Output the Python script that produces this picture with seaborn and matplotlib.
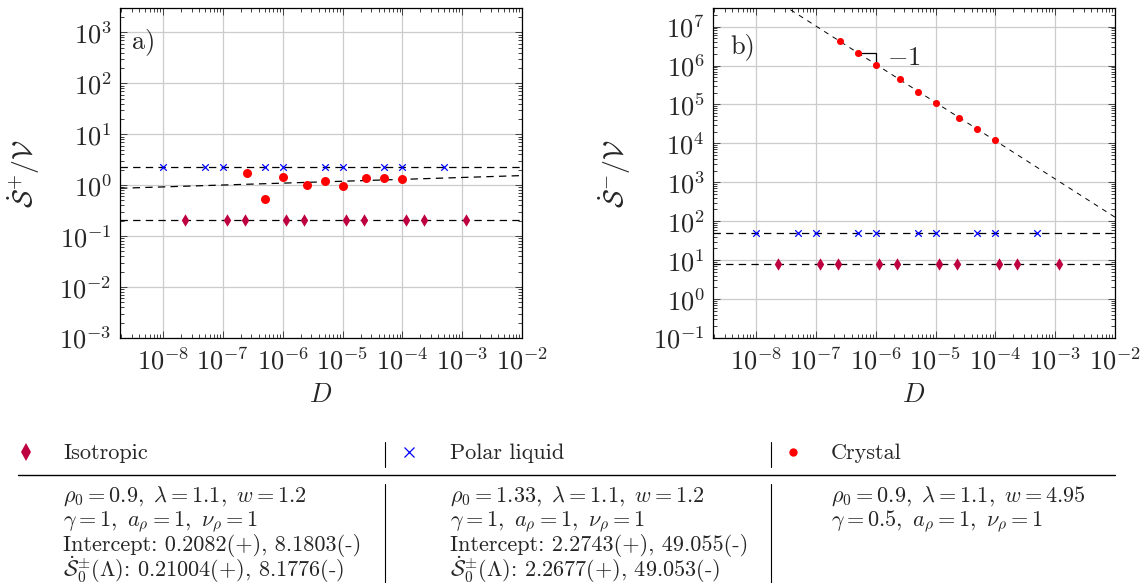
import numpy as np
import matplotlib
matplotlib.use("Agg")
import matplotlib.pyplot as plt
from matplotlib.lines import Line2D
from matplotlib.ticker import LogLocator, NullFormatter, LogFormatterMathtext
import seaborn as sns

# values
iso_D = [2.3e-8, 1.15e-7, 2.3e-7, 1.15e-6, 2.3e-6, 1.15e-5, 2.3e-5, 1.15e-4, 2.3e-4, 1.15e-3]
iso_plus = [0.210, 0.210, 0.210, 0.210, 0.210, 0.210, 0.210, 0.210, 0.210, 0.210]
iso_minus = [8.18, 8.18, 8.18, 8.18, 8.18, 8.18, 8.18, 8.18, 8.18, 8.18]

polar_D = [1e-8, 5e-8, 1e-7, 5e-7, 1e-6, 5e-6, 1e-5, 5e-5, 1e-4, 5e-4]
polar_plus = [2.27, 2.27, 2.27, 2.27, 2.27, 2.27, 2.27, 2.27, 2.27, 2.27]
polar_minus = [49.05, 49.05, 49.05, 49.05, 49.05, 49.05, 49.05, 49.05, 49.05, 49.05]

crystal_D = [2.5e-7, 5e-7, 1e-6, 2.5e-6, 5e-6, 1e-5, 2.5e-5, 5e-5, 1e-4]
crystal_plus = [1.72, 0.53, 1.46, 1.01, 1.20, 0.96, 1.39, 1.36, 1.33]
crystal_minus = [4.28e6, 2.15e6, 1.05e6, 4.6e5, 2.13e5, 1.07e5, 4.4e4, 2.3e4, 1.24e4]

# fitted intercepts (iso, polar) from the table
intercept_plus = [0.2082, 2.2743]
intercept_minus = [8.1803, 49.055]

# decade tick positions
x_ticks = [1e-8, 1e-7, 1e-6, 1e-5, 1e-4, 1e-3, 1e-2]
y_ticks_a = [1e-3, 1e-2, 1e-1, 1e0, 1e1, 1e2, 1e3]
y_ticks_b = [1e-1, 1e0, 1e1, 1e2, 1e3, 1e4, 1e5, 1e6, 1e7]

legend_names = ["Isotropic", "Polar liquid", "Crystal"]
table_rows = [
    [r"$\rho_0 = 0.9,\ \lambda = 1.1,\ w = 1.2$",
     r"$\gamma = 1,\ a_\rho = 1,\ \nu_\rho = 1$",
     "Intercept: 0.2082(+), 8.1803(-)",
     r"$\dot{\mathcal{S}}_0^{\pm}(\Lambda)$: 0.21004(+), 8.1776(-)"],
    [r"$\rho_0 = 1.33,\ \lambda = 1.1,\ w = 1.2$",
     r"$\gamma = 1,\ a_\rho = 1,\ \nu_\rho = 1$",
     "Intercept: 2.2743(+), 49.055(-)",
     r"$\dot{\mathcal{S}}_0^{\pm}(\Lambda)$: 2.2677(+), 49.053(-)"],
    [r"$\rho_0 = 0.9,\ \lambda = 1.1,\ w = 4.95$",
     r"$\gamma = 0.5,\ a_\rho = 1,\ \nu_\rho = 1$"],
]

PURPLE = "#bf0040"
BLUE = "#0000ff"
RED = "#ff0000"

sns.set_style("ticks")
plt.rcParams.update({
    "font.family": "serif",
    "font.serif": ["cmr10"],
    "mathtext.fontset": "cm",
    "axes.formatter.use_mathtext": True,
    "axes.unicode_minus": False,
    "lines.scale_dashes": False,
})

W, H = 1143, 583
fig = plt.figure(figsize=(W / 100, H / 100), dpi=100)
ax1 = fig.add_axes([120 / W, 1 - 338 / H, 402 / W, 330 / H])
ax2 = fig.add_axes([713 / W, 1 - 338 / H, 402 / W, 330 / H])

xlim = (1.9e-9, 1e-2)


def style_axes(ax, ylim, yticks):
    ax.set_xscale("log")
    ax.set_yscale("log")
    ax.set_xticks(x_ticks)
    ax.set_yticks(yticks)
    ax.set_xlim(*xlim)
    ax.set_ylim(*ylim)
    for a in (ax.xaxis, ax.yaxis):
        a.set_minor_locator(LogLocator(base=10, subs=np.arange(2, 10), numticks=400))
        a.set_minor_formatter(NullFormatter())
        a.set_major_formatter(LogFormatterMathtext())
    ax.tick_params(which="both", direction="in", top=True, right=True,
                   labelsize=19, width=0.7, color="#404040")
    ax.tick_params(which="major", length=5)
    ax.tick_params(which="minor", length=3)
    ax.tick_params(axis="x", pad=7)
    ax.tick_params(axis="y", pad=6)
    ax.grid(True, which="major", color="#cccccc", lw=0.9)
    ax.set_axisbelow(True)
    for sp in ax.spines.values():
        sp.set_linewidth(0.9)
        sp.set_color("black")
    ax.set_xlabel(r"$D$", fontsize=19, va="center")
    ax.xaxis.set_label_coords(0.5, -0.173)


def fit_line(ax, D, S, lw, dashes):
    coef = np.polyfit(np.log10(D), np.log10(S), 1)
    xs = np.logspace(np.log10(xlim[0]), np.log10(xlim[1]), 50)
    sns.lineplot(x=xs, y=10 ** np.polyval(coef, np.log10(xs)), ax=ax,
                 color="black", lw=lw, dashes=False, linestyle=(0, dashes), zorder=2)
    return coef


# panel a)
style_axes(ax1, (1e-3, 3e3), y_ticks_a)
for c in intercept_plus:
    ax1.axhline(c, color="black", lw=0.9, linestyle=(0, (5.3, 3.8)), zorder=2)
fit_line(ax1, crystal_D, crystal_plus, 0.9, (5.3, 3.8))
sns.scatterplot(x=iso_D, y=iso_plus, ax=ax1, marker="d", color=PURPLE, s=40,
                linewidth=0, zorder=3)
sns.scatterplot(x=polar_D, y=polar_plus, ax=ax1, marker="x", color=BLUE, s=22,
                linewidth=0.9, zorder=3)
sns.scatterplot(x=crystal_D, y=crystal_plus, ax=ax1, marker="o", color=RED, s=42,
                linewidth=0, zorder=3)
ax1.set_ylabel(r"$\dot{\mathcal{S}}^{+}/\mathcal{V}$", fontsize=20, va="center")
ax1.yaxis.set_label_coords(-0.24, 0.5)
ax1.text(0.03, 0.94, "a)", transform=ax1.transAxes, fontsize=19, va="top", ha="left")

# panel b)
style_axes(ax2, (1e-1, 3e7), y_ticks_b)
for c in intercept_minus:
    ax2.axhline(c, color="black", lw=0.9, linestyle=(0, (5.3, 3.8)), zorder=2)
coef_b = fit_line(ax2, crystal_D, crystal_minus, 0.7, (3.6, 3.6))
sns.scatterplot(x=iso_D, y=iso_minus, ax=ax2, marker="d", color=PURPLE, s=40,
                linewidth=0, zorder=3)
sns.scatterplot(x=polar_D, y=polar_minus, ax=ax2, marker="x", color=BLUE, s=22,
                linewidth=0.9, zorder=3)
sns.scatterplot(x=crystal_D, y=crystal_minus, ax=ax2, marker="o", color=RED, s=26,
                linewidth=0, zorder=3)
# slope marker
y_end = 10 ** np.polyval(coef_b, np.log10(crystal_D[2]))
ax2.plot([crystal_D[1], crystal_D[2], crystal_D[2]],
         [crystal_minus[1], crystal_minus[1], y_end * 1.15],
         color="black", lw=0.9, zorder=2)
ax2.annotate(r"$-1$", xy=(crystal_D[2], crystal_minus[1]), xytext=(8, -4),
             textcoords="offset points", fontsize=19, ha="left", va="center")
ax2.set_ylabel(r"$\dot{\mathcal{S}}^{-}/\mathcal{V}$", fontsize=20, va="center")
ax2.yaxis.set_label_coords(-0.245, 0.5)
ax2.text(0.042, 0.925, "b)", transform=ax2.transAxes, fontsize=19, va="top", ha="left")

# legend table underneath
fx = lambda px: px / W
fy = lambda py: 1 - py / H
marker_x = [26, 409, 793]
text_x = [63, 450, 831]
sep_x = [385, 771]
markers = [("d", PURPLE, 9, 0), ("x", BLUE, 7, 0.9), ("o", RED, 6, 0)]
for (m, col, ms, mew), mx, tx, name in zip(markers, marker_x, text_x, legend_names):
    fig.add_artist(Line2D([fx(mx)], [fy(452)], marker=m, color=col, ms=ms,
                          mew=mew if mew else 0.0, ls="none"))
    fig.text(fx(tx), fy(459), name, fontsize=16, ha="left", va="baseline")
for sx in sep_x:
    fig.add_artist(Line2D([fx(sx), fx(sx)], [fy(442), fy(467)], color="black", lw=0.8))
    fig.add_artist(Line2D([fx(sx), fx(sx)], [fy(484), fy(583)], color="black", lw=0.8))
fig.add_artist(Line2D([fx(18), fx(1115)], [fy(475), fy(475)], color="black", lw=1.0))

baselines = [502, 526, 551, 577]
for tx, rows in zip(text_x, table_rows):
    for by, s in zip(baselines, rows):
        fig.text(fx(tx), fy(by), s, fontsize=16, ha="left", va="baseline")

fig.savefig("out.png", dpi=100)
